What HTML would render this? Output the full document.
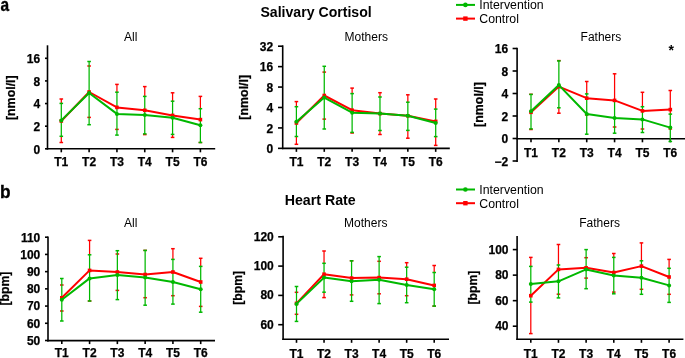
<!DOCTYPE html>
<html><head><meta charset="utf-8"><style>
html,body{margin:0;padding:0;background:#fff;overflow:hidden;}
#w{will-change:transform;width:685px;height:358px;}
svg{display:block;font-family:"Liberation Sans", sans-serif;}
</style></head><body><div id="w">
<svg width="685" height="358" viewBox="0 0 685 358">
<line x1="47.5" y1="45.3" x2="47.5" y2="149.60000000000002" stroke="#000" stroke-width="1.6"/>
<line x1="46.7" y1="148.8" x2="215.2" y2="148.8" stroke="#000" stroke-width="1.6"/>
<line x1="45.0" y1="58.3" x2="47.5" y2="58.3" stroke="#000" stroke-width="1.6"/>
<text x="40.1" y="63.099999999999994" font-size="12" font-weight="bold" text-anchor="end"  stroke="#000" stroke-width="0.25">16</text>
<line x1="45.0" y1="80.92" x2="47.5" y2="80.92" stroke="#000" stroke-width="1.6"/>
<text x="40.1" y="85.72" font-size="12" font-weight="bold" text-anchor="end"  stroke="#000" stroke-width="0.25">8</text>
<line x1="45.0" y1="103.55" x2="47.5" y2="103.55" stroke="#000" stroke-width="1.6"/>
<text x="40.1" y="108.35" font-size="12" font-weight="bold" text-anchor="end"  stroke="#000" stroke-width="0.25">4</text>
<line x1="45.0" y1="126.18" x2="47.5" y2="126.18" stroke="#000" stroke-width="1.6"/>
<text x="40.1" y="130.98000000000002" font-size="12" font-weight="bold" text-anchor="end"  stroke="#000" stroke-width="0.25">2</text>
<line x1="45.0" y1="148.8" x2="47.5" y2="148.8" stroke="#000" stroke-width="1.6"/>
<text x="40.1" y="153.60000000000002" font-size="12" font-weight="bold" text-anchor="end"  stroke="#000" stroke-width="0.25">0</text>
<line x1="61.3" y1="148.8" x2="61.3" y2="152.3" stroke="#000" stroke-width="1.6"/>
<text x="61.3" y="165.9" font-size="12" font-weight="bold" text-anchor="middle"  stroke="#000" stroke-width="0.25">T1</text>
<line x1="89.12" y1="148.8" x2="89.12" y2="152.3" stroke="#000" stroke-width="1.6"/>
<text x="89.12" y="165.9" font-size="12" font-weight="bold" text-anchor="middle"  stroke="#000" stroke-width="0.25">T2</text>
<line x1="116.94" y1="148.8" x2="116.94" y2="152.3" stroke="#000" stroke-width="1.6"/>
<text x="116.94" y="165.9" font-size="12" font-weight="bold" text-anchor="middle"  stroke="#000" stroke-width="0.25">T3</text>
<line x1="144.76" y1="148.8" x2="144.76" y2="152.3" stroke="#000" stroke-width="1.6"/>
<text x="144.76" y="165.9" font-size="12" font-weight="bold" text-anchor="middle"  stroke="#000" stroke-width="0.25">T4</text>
<line x1="172.58" y1="148.8" x2="172.58" y2="152.3" stroke="#000" stroke-width="1.6"/>
<text x="172.58" y="165.9" font-size="12" font-weight="bold" text-anchor="middle"  stroke="#000" stroke-width="0.25">T5</text>
<line x1="200.4" y1="148.8" x2="200.4" y2="152.3" stroke="#000" stroke-width="1.6"/>
<text x="200.4" y="165.9" font-size="12" font-weight="bold" text-anchor="middle"  stroke="#000" stroke-width="0.25">T6</text>
<text x="0" y="0" font-size="12.4" font-weight="bold" stroke="#000" stroke-width="0.25" text-anchor="middle" transform="translate(15.3,97.7) rotate(-90)">[nmol/l]</text>
<text x="130.7" y="40.8" font-size="12" font-weight="normal" text-anchor="middle" >All</text>
<line x1="61.3" y1="99" x2="61.3" y2="103.4" stroke="#ff0000" stroke-width="1.25"/>
<line x1="61.3" y1="136.3" x2="61.3" y2="142.5" stroke="#ff0000" stroke-width="1.25"/>
<line x1="59.5" y1="142.5" x2="63.099999999999994" y2="142.5" stroke="#ff0000" stroke-width="1.5"/>
<line x1="59.5" y1="99" x2="63.099999999999994" y2="99" stroke="#ff0000" stroke-width="1.5"/>
<line x1="87.32000000000001" y1="117.4" x2="90.92" y2="117.4" stroke="#ff0000" stroke-width="1.5"/>
<line x1="87.32000000000001" y1="66" x2="90.92" y2="66" stroke="#ff0000" stroke-width="1.5"/>
<line x1="116.94" y1="84.4" x2="116.94" y2="92.2" stroke="#ff0000" stroke-width="1.25"/>
<line x1="115.14" y1="129.4" x2="118.74" y2="129.4" stroke="#ff0000" stroke-width="1.5"/>
<line x1="115.14" y1="84.4" x2="118.74" y2="84.4" stroke="#ff0000" stroke-width="1.5"/>
<line x1="144.76" y1="86.6" x2="144.76" y2="96.4" stroke="#ff0000" stroke-width="1.25"/>
<line x1="144.76" y1="133.9" x2="144.76" y2="134.6" stroke="#ff0000" stroke-width="1.25"/>
<line x1="142.95999999999998" y1="134.6" x2="146.56" y2="134.6" stroke="#ff0000" stroke-width="1.5"/>
<line x1="142.95999999999998" y1="86.6" x2="146.56" y2="86.6" stroke="#ff0000" stroke-width="1.5"/>
<line x1="172.58" y1="92.8" x2="172.58" y2="101.2" stroke="#ff0000" stroke-width="1.25"/>
<line x1="172.58" y1="134.4" x2="172.58" y2="137.4" stroke="#ff0000" stroke-width="1.25"/>
<line x1="170.78" y1="137.4" x2="174.38000000000002" y2="137.4" stroke="#ff0000" stroke-width="1.5"/>
<line x1="170.78" y1="92.8" x2="174.38000000000002" y2="92.8" stroke="#ff0000" stroke-width="1.5"/>
<line x1="200.4" y1="96.4" x2="200.4" y2="108.7" stroke="#ff0000" stroke-width="1.25"/>
<line x1="198.6" y1="142.5" x2="202.20000000000002" y2="142.5" stroke="#ff0000" stroke-width="1.5"/>
<line x1="198.6" y1="96.4" x2="202.20000000000002" y2="96.4" stroke="#ff0000" stroke-width="1.5"/>
<line x1="61.3" y1="136.3" x2="61.3" y2="103.4" stroke="#00b800" stroke-width="1.25"/>
<line x1="59.5" y1="136.3" x2="63.099999999999994" y2="136.3" stroke="#00b800" stroke-width="1.5"/>
<line x1="59.5" y1="103.4" x2="63.099999999999994" y2="103.4" stroke="#00b800" stroke-width="1.5"/>
<line x1="89.12" y1="124.7" x2="89.12" y2="61.5" stroke="#00b800" stroke-width="1.25"/>
<line x1="87.32000000000001" y1="124.7" x2="90.92" y2="124.7" stroke="#00b800" stroke-width="1.5"/>
<line x1="87.32000000000001" y1="61.5" x2="90.92" y2="61.5" stroke="#00b800" stroke-width="1.5"/>
<line x1="116.94" y1="135.1" x2="116.94" y2="92.2" stroke="#00b800" stroke-width="1.25"/>
<line x1="115.14" y1="135.1" x2="118.74" y2="135.1" stroke="#00b800" stroke-width="1.5"/>
<line x1="115.14" y1="92.2" x2="118.74" y2="92.2" stroke="#00b800" stroke-width="1.5"/>
<line x1="144.76" y1="133.9" x2="144.76" y2="96.4" stroke="#00b800" stroke-width="1.25"/>
<line x1="142.95999999999998" y1="133.9" x2="146.56" y2="133.9" stroke="#00b800" stroke-width="1.5"/>
<line x1="142.95999999999998" y1="96.4" x2="146.56" y2="96.4" stroke="#00b800" stroke-width="1.5"/>
<line x1="172.58" y1="134.4" x2="172.58" y2="101.2" stroke="#00b800" stroke-width="1.25"/>
<line x1="170.78" y1="134.4" x2="174.38000000000002" y2="134.4" stroke="#00b800" stroke-width="1.5"/>
<line x1="170.78" y1="101.2" x2="174.38000000000002" y2="101.2" stroke="#00b800" stroke-width="1.5"/>
<line x1="200.4" y1="142.5" x2="200.4" y2="108.7" stroke="#00b800" stroke-width="1.25"/>
<line x1="198.6" y1="142.5" x2="202.20000000000002" y2="142.5" stroke="#00b800" stroke-width="1.5"/>
<line x1="198.6" y1="108.7" x2="202.20000000000002" y2="108.7" stroke="#00b800" stroke-width="1.5"/>
<polyline points="61.3,121 89.12,92 116.94,107.4 144.76,110.3 172.58,115.4 200.4,119.6" fill="none" stroke="#ff0000" stroke-width="2.0" stroke-linejoin="round"/>
<rect x="59.5" y="119.2" width="3.6" height="3.6" fill="#ff0000"/>
<rect x="87.32000000000001" y="90.2" width="3.6" height="3.6" fill="#ff0000"/>
<rect x="115.14" y="105.60000000000001" width="3.6" height="3.6" fill="#ff0000"/>
<rect x="142.95999999999998" y="108.5" width="3.6" height="3.6" fill="#ff0000"/>
<rect x="170.78" y="113.60000000000001" width="3.6" height="3.6" fill="#ff0000"/>
<rect x="198.6" y="117.8" width="3.6" height="3.6" fill="#ff0000"/>
<polyline points="61.3,120.4 89.12,93 116.94,113.9 144.76,114.9 172.58,117.7 200.4,125.2" fill="none" stroke="#00b800" stroke-width="2.0" stroke-linejoin="round"/>
<circle cx="61.3" cy="120.4" r="2.0" fill="#00b800"/>
<circle cx="89.12" cy="93" r="2.0" fill="#00b800"/>
<circle cx="116.94" cy="113.9" r="2.0" fill="#00b800"/>
<circle cx="144.76" cy="114.9" r="2.0" fill="#00b800"/>
<circle cx="172.58" cy="117.7" r="2.0" fill="#00b800"/>
<circle cx="200.4" cy="125.2" r="2.0" fill="#00b800"/>
<line x1="282.7" y1="45.3" x2="282.7" y2="149.15" stroke="#000" stroke-width="1.6"/>
<line x1="281.9" y1="148.35" x2="449.8" y2="148.35" stroke="#000" stroke-width="1.6"/>
<line x1="278.0" y1="46.2" x2="282.7" y2="46.2" stroke="#000" stroke-width="1.6"/>
<text x="273.2" y="50.85" font-size="12" font-weight="bold" text-anchor="end"  stroke="#000" stroke-width="0.25">32</text>
<line x1="278.0" y1="66.63" x2="282.7" y2="66.63" stroke="#000" stroke-width="1.6"/>
<text x="273.2" y="71.28" font-size="12" font-weight="bold" text-anchor="end"  stroke="#000" stroke-width="0.25">16</text>
<line x1="278.0" y1="87.06" x2="282.7" y2="87.06" stroke="#000" stroke-width="1.6"/>
<text x="273.2" y="91.71000000000001" font-size="12" font-weight="bold" text-anchor="end"  stroke="#000" stroke-width="0.25">8</text>
<line x1="278.0" y1="107.49" x2="282.7" y2="107.49" stroke="#000" stroke-width="1.6"/>
<text x="273.2" y="112.14" font-size="12" font-weight="bold" text-anchor="end"  stroke="#000" stroke-width="0.25">4</text>
<line x1="278.0" y1="127.92" x2="282.7" y2="127.92" stroke="#000" stroke-width="1.6"/>
<text x="273.2" y="132.57" font-size="12" font-weight="bold" text-anchor="end"  stroke="#000" stroke-width="0.25">2</text>
<line x1="278.0" y1="148.35" x2="282.7" y2="148.35" stroke="#000" stroke-width="1.6"/>
<text x="273.2" y="153.0" font-size="12" font-weight="bold" text-anchor="end"  stroke="#000" stroke-width="0.25">0</text>
<line x1="296.4" y1="148.35" x2="296.4" y2="151.85" stroke="#000" stroke-width="1.6"/>
<text x="296.4" y="165.9" font-size="12" font-weight="bold" text-anchor="middle"  stroke="#000" stroke-width="0.25">T1</text>
<line x1="324.26" y1="148.35" x2="324.26" y2="151.85" stroke="#000" stroke-width="1.6"/>
<text x="324.26" y="165.9" font-size="12" font-weight="bold" text-anchor="middle"  stroke="#000" stroke-width="0.25">T2</text>
<line x1="352.12" y1="148.35" x2="352.12" y2="151.85" stroke="#000" stroke-width="1.6"/>
<text x="352.12" y="165.9" font-size="12" font-weight="bold" text-anchor="middle"  stroke="#000" stroke-width="0.25">T3</text>
<line x1="379.98" y1="148.35" x2="379.98" y2="151.85" stroke="#000" stroke-width="1.6"/>
<text x="379.98" y="165.9" font-size="12" font-weight="bold" text-anchor="middle"  stroke="#000" stroke-width="0.25">T4</text>
<line x1="407.84" y1="148.35" x2="407.84" y2="151.85" stroke="#000" stroke-width="1.6"/>
<text x="407.84" y="165.9" font-size="12" font-weight="bold" text-anchor="middle"  stroke="#000" stroke-width="0.25">T5</text>
<line x1="435.7" y1="148.35" x2="435.7" y2="151.85" stroke="#000" stroke-width="1.6"/>
<text x="435.7" y="165.9" font-size="12" font-weight="bold" text-anchor="middle"  stroke="#000" stroke-width="0.25">T6</text>
<text x="0" y="0" font-size="12.4" font-weight="bold" stroke="#000" stroke-width="0.25" text-anchor="middle" transform="translate(248.25,97.25) rotate(-90)">[nmol/l]</text>
<text x="366.3" y="40.5" font-size="12" font-weight="normal" text-anchor="middle" >Mothers</text>
<line x1="296.4" y1="101.6" x2="296.4" y2="106.7" stroke="#ff0000" stroke-width="1.25"/>
<line x1="296.4" y1="136.5" x2="296.4" y2="144.3" stroke="#ff0000" stroke-width="1.25"/>
<line x1="294.59999999999997" y1="144.3" x2="298.2" y2="144.3" stroke="#ff0000" stroke-width="1.5"/>
<line x1="294.59999999999997" y1="101.6" x2="298.2" y2="101.6" stroke="#ff0000" stroke-width="1.5"/>
<line x1="322.46" y1="119.1" x2="326.06" y2="119.1" stroke="#ff0000" stroke-width="1.5"/>
<line x1="322.46" y1="72.1" x2="326.06" y2="72.1" stroke="#ff0000" stroke-width="1.5"/>
<line x1="352.12" y1="88.1" x2="352.12" y2="93.6" stroke="#ff0000" stroke-width="1.25"/>
<line x1="352.12" y1="132.4" x2="352.12" y2="133" stroke="#ff0000" stroke-width="1.25"/>
<line x1="350.32" y1="133" x2="353.92" y2="133" stroke="#ff0000" stroke-width="1.5"/>
<line x1="350.32" y1="88.1" x2="353.92" y2="88.1" stroke="#ff0000" stroke-width="1.5"/>
<line x1="379.98" y1="92.7" x2="379.98" y2="97" stroke="#ff0000" stroke-width="1.25"/>
<line x1="379.98" y1="130.5" x2="379.98" y2="134.5" stroke="#ff0000" stroke-width="1.25"/>
<line x1="378.18" y1="134.5" x2="381.78000000000003" y2="134.5" stroke="#ff0000" stroke-width="1.5"/>
<line x1="378.18" y1="92.7" x2="381.78000000000003" y2="92.7" stroke="#ff0000" stroke-width="1.5"/>
<line x1="407.84" y1="94.8" x2="407.84" y2="102.2" stroke="#ff0000" stroke-width="1.25"/>
<line x1="407.84" y1="130.4" x2="407.84" y2="138.2" stroke="#ff0000" stroke-width="1.25"/>
<line x1="406.03999999999996" y1="138.2" x2="409.64" y2="138.2" stroke="#ff0000" stroke-width="1.5"/>
<line x1="406.03999999999996" y1="94.8" x2="409.64" y2="94.8" stroke="#ff0000" stroke-width="1.5"/>
<line x1="435.7" y1="99" x2="435.7" y2="109.1" stroke="#ff0000" stroke-width="1.25"/>
<line x1="435.7" y1="136.6" x2="435.7" y2="145.4" stroke="#ff0000" stroke-width="1.25"/>
<line x1="433.9" y1="145.4" x2="437.5" y2="145.4" stroke="#ff0000" stroke-width="1.5"/>
<line x1="433.9" y1="99" x2="437.5" y2="99" stroke="#ff0000" stroke-width="1.5"/>
<line x1="296.4" y1="136.5" x2="296.4" y2="106.7" stroke="#00b800" stroke-width="1.25"/>
<line x1="294.59999999999997" y1="136.5" x2="298.2" y2="136.5" stroke="#00b800" stroke-width="1.5"/>
<line x1="294.59999999999997" y1="106.7" x2="298.2" y2="106.7" stroke="#00b800" stroke-width="1.5"/>
<line x1="324.26" y1="129" x2="324.26" y2="66.3" stroke="#00b800" stroke-width="1.25"/>
<line x1="322.46" y1="129" x2="326.06" y2="129" stroke="#00b800" stroke-width="1.5"/>
<line x1="322.46" y1="66.3" x2="326.06" y2="66.3" stroke="#00b800" stroke-width="1.5"/>
<line x1="352.12" y1="132.4" x2="352.12" y2="93.6" stroke="#00b800" stroke-width="1.25"/>
<line x1="350.32" y1="132.4" x2="353.92" y2="132.4" stroke="#00b800" stroke-width="1.5"/>
<line x1="350.32" y1="93.6" x2="353.92" y2="93.6" stroke="#00b800" stroke-width="1.5"/>
<line x1="379.98" y1="130.5" x2="379.98" y2="97" stroke="#00b800" stroke-width="1.25"/>
<line x1="378.18" y1="130.5" x2="381.78000000000003" y2="130.5" stroke="#00b800" stroke-width="1.5"/>
<line x1="378.18" y1="97" x2="381.78000000000003" y2="97" stroke="#00b800" stroke-width="1.5"/>
<line x1="407.84" y1="130.4" x2="407.84" y2="102.2" stroke="#00b800" stroke-width="1.25"/>
<line x1="406.03999999999996" y1="130.4" x2="409.64" y2="130.4" stroke="#00b800" stroke-width="1.5"/>
<line x1="406.03999999999996" y1="102.2" x2="409.64" y2="102.2" stroke="#00b800" stroke-width="1.5"/>
<line x1="435.7" y1="136.6" x2="435.7" y2="109.1" stroke="#00b800" stroke-width="1.25"/>
<line x1="433.9" y1="136.6" x2="437.5" y2="136.6" stroke="#00b800" stroke-width="1.5"/>
<line x1="433.9" y1="109.1" x2="437.5" y2="109.1" stroke="#00b800" stroke-width="1.5"/>
<polyline points="296.4,123 324.26,95.5 352.12,110.2 379.98,113.6 407.84,115.8 435.7,121.4" fill="none" stroke="#ff0000" stroke-width="2.0" stroke-linejoin="round"/>
<rect x="294.59999999999997" y="121.2" width="3.6" height="3.6" fill="#ff0000"/>
<rect x="322.46" y="93.7" width="3.6" height="3.6" fill="#ff0000"/>
<rect x="350.32" y="108.4" width="3.6" height="3.6" fill="#ff0000"/>
<rect x="378.18" y="111.8" width="3.6" height="3.6" fill="#ff0000"/>
<rect x="406.03999999999996" y="114.0" width="3.6" height="3.6" fill="#ff0000"/>
<rect x="433.9" y="119.60000000000001" width="3.6" height="3.6" fill="#ff0000"/>
<polyline points="296.4,121.7 324.26,97.6 352.12,112.7 379.98,113.6 407.84,115.8 435.7,123" fill="none" stroke="#00b800" stroke-width="2.0" stroke-linejoin="round"/>
<circle cx="296.4" cy="121.7" r="2.0" fill="#00b800"/>
<circle cx="324.26" cy="97.6" r="2.0" fill="#00b800"/>
<circle cx="352.12" cy="112.7" r="2.0" fill="#00b800"/>
<circle cx="379.98" cy="113.6" r="2.0" fill="#00b800"/>
<circle cx="407.84" cy="115.8" r="2.0" fill="#00b800"/>
<circle cx="435.7" cy="123" r="2.0" fill="#00b800"/>
<line x1="517.1" y1="47.8" x2="517.1" y2="161.9" stroke="#000" stroke-width="1.6"/>
<line x1="516.3000000000001" y1="138.8" x2="685" y2="138.8" stroke="#000" stroke-width="1.6"/>
<line x1="512.6" y1="48.5" x2="517.1" y2="48.5" stroke="#000" stroke-width="1.6"/>
<text x="508.1" y="53.35" font-size="12" font-weight="bold" text-anchor="end"  stroke="#000" stroke-width="0.25">16</text>
<line x1="512.6" y1="71.0" x2="517.1" y2="71.0" stroke="#000" stroke-width="1.6"/>
<text x="508.1" y="75.85" font-size="12" font-weight="bold" text-anchor="end"  stroke="#000" stroke-width="0.25">8</text>
<line x1="512.6" y1="93.5" x2="517.1" y2="93.5" stroke="#000" stroke-width="1.6"/>
<text x="508.1" y="98.35" font-size="12" font-weight="bold" text-anchor="end"  stroke="#000" stroke-width="0.25">4</text>
<line x1="512.6" y1="116.0" x2="517.1" y2="116.0" stroke="#000" stroke-width="1.6"/>
<text x="508.1" y="120.85" font-size="12" font-weight="bold" text-anchor="end"  stroke="#000" stroke-width="0.25">2</text>
<line x1="512.6" y1="138.5" x2="517.1" y2="138.5" stroke="#000" stroke-width="1.6"/>
<text x="508.1" y="143.35" font-size="12" font-weight="bold" text-anchor="end"  stroke="#000" stroke-width="0.25">0</text>
<line x1="512.6" y1="161.0" x2="517.1" y2="161.0" stroke="#000" stroke-width="1.6"/>
<text x="508.1" y="165.85" font-size="12" font-weight="bold" text-anchor="end"  stroke="#000" stroke-width="0.25">−2</text>
<line x1="531.0" y1="138.8" x2="531.0" y2="142.3" stroke="#000" stroke-width="1.6"/>
<text x="531.0" y="157.2" font-size="12" font-weight="bold" text-anchor="middle"  stroke="#000" stroke-width="0.25">T1</text>
<line x1="558.86" y1="138.8" x2="558.86" y2="142.3" stroke="#000" stroke-width="1.6"/>
<text x="558.86" y="157.2" font-size="12" font-weight="bold" text-anchor="middle"  stroke="#000" stroke-width="0.25">T2</text>
<line x1="586.72" y1="138.8" x2="586.72" y2="142.3" stroke="#000" stroke-width="1.6"/>
<text x="586.72" y="157.2" font-size="12" font-weight="bold" text-anchor="middle"  stroke="#000" stroke-width="0.25">T3</text>
<line x1="614.58" y1="138.8" x2="614.58" y2="142.3" stroke="#000" stroke-width="1.6"/>
<text x="614.58" y="157.2" font-size="12" font-weight="bold" text-anchor="middle"  stroke="#000" stroke-width="0.25">T4</text>
<line x1="642.44" y1="138.8" x2="642.44" y2="142.3" stroke="#000" stroke-width="1.6"/>
<text x="642.44" y="157.2" font-size="12" font-weight="bold" text-anchor="middle"  stroke="#000" stroke-width="0.25">T5</text>
<line x1="670.3" y1="138.8" x2="670.3" y2="142.3" stroke="#000" stroke-width="1.6"/>
<text x="670.3" y="157.2" font-size="12" font-weight="bold" text-anchor="middle"  stroke="#000" stroke-width="0.25">T6</text>
<text x="0" y="0" font-size="12.4" font-weight="bold" stroke="#000" stroke-width="0.25" text-anchor="middle" transform="translate(483.1,104.5) rotate(-90)">[nmol/l]</text>
<text x="600.9" y="40.8" font-size="12" font-weight="normal" text-anchor="middle" >Fathers</text>
<line x1="531.0" y1="94.3" x2="531.0" y2="94.4" stroke="#ff0000" stroke-width="1.25"/>
<line x1="531.0" y1="128.9" x2="531.0" y2="129.5" stroke="#ff0000" stroke-width="1.25"/>
<line x1="529.2" y1="129.5" x2="532.8" y2="129.5" stroke="#ff0000" stroke-width="1.5"/>
<line x1="529.2" y1="94.3" x2="532.8" y2="94.3" stroke="#ff0000" stroke-width="1.5"/>
<line x1="558.86" y1="60.6" x2="558.86" y2="60.9" stroke="#ff0000" stroke-width="1.25"/>
<line x1="558.86" y1="107.8" x2="558.86" y2="113.2" stroke="#ff0000" stroke-width="1.25"/>
<line x1="557.0600000000001" y1="113.2" x2="560.66" y2="113.2" stroke="#ff0000" stroke-width="1.5"/>
<line x1="557.0600000000001" y1="60.6" x2="560.66" y2="60.6" stroke="#ff0000" stroke-width="1.5"/>
<line x1="586.72" y1="81.5" x2="586.72" y2="93.9" stroke="#ff0000" stroke-width="1.25"/>
<line x1="584.9200000000001" y1="115" x2="588.52" y2="115" stroke="#ff0000" stroke-width="1.5"/>
<line x1="584.9200000000001" y1="81.5" x2="588.52" y2="81.5" stroke="#ff0000" stroke-width="1.5"/>
<line x1="614.58" y1="73.8" x2="614.58" y2="100.7" stroke="#ff0000" stroke-width="1.25"/>
<line x1="612.7800000000001" y1="127" x2="616.38" y2="127" stroke="#ff0000" stroke-width="1.5"/>
<line x1="612.7800000000001" y1="73.8" x2="616.38" y2="73.8" stroke="#ff0000" stroke-width="1.5"/>
<line x1="642.44" y1="92.3" x2="642.44" y2="106.7" stroke="#ff0000" stroke-width="1.25"/>
<line x1="640.6400000000001" y1="129" x2="644.24" y2="129" stroke="#ff0000" stroke-width="1.5"/>
<line x1="640.6400000000001" y1="92.3" x2="644.24" y2="92.3" stroke="#ff0000" stroke-width="1.5"/>
<line x1="670.3" y1="90.5" x2="670.3" y2="114.1" stroke="#ff0000" stroke-width="1.25"/>
<line x1="668.5" y1="129" x2="672.0999999999999" y2="129" stroke="#ff0000" stroke-width="1.5"/>
<line x1="668.5" y1="90.5" x2="672.0999999999999" y2="90.5" stroke="#ff0000" stroke-width="1.5"/>
<line x1="531.0" y1="128.9" x2="531.0" y2="94.4" stroke="#00b800" stroke-width="1.25"/>
<line x1="529.2" y1="128.9" x2="532.8" y2="128.9" stroke="#00b800" stroke-width="1.5"/>
<line x1="529.2" y1="94.4" x2="532.8" y2="94.4" stroke="#00b800" stroke-width="1.5"/>
<line x1="558.86" y1="107.8" x2="558.86" y2="60.9" stroke="#00b800" stroke-width="1.25"/>
<line x1="557.0600000000001" y1="107.8" x2="560.66" y2="107.8" stroke="#00b800" stroke-width="1.5"/>
<line x1="557.0600000000001" y1="60.9" x2="560.66" y2="60.9" stroke="#00b800" stroke-width="1.5"/>
<line x1="586.72" y1="134.2" x2="586.72" y2="93.9" stroke="#00b800" stroke-width="1.25"/>
<line x1="584.9200000000001" y1="134.2" x2="588.52" y2="134.2" stroke="#00b800" stroke-width="1.5"/>
<line x1="584.9200000000001" y1="93.9" x2="588.52" y2="93.9" stroke="#00b800" stroke-width="1.5"/>
<line x1="614.58" y1="133.2" x2="614.58" y2="100.7" stroke="#00b800" stroke-width="1.25"/>
<line x1="612.7800000000001" y1="133.2" x2="616.38" y2="133.2" stroke="#00b800" stroke-width="1.5"/>
<line x1="612.7800000000001" y1="100.7" x2="616.38" y2="100.7" stroke="#00b800" stroke-width="1.5"/>
<line x1="642.44" y1="132.5" x2="642.44" y2="106.7" stroke="#00b800" stroke-width="1.25"/>
<line x1="640.6400000000001" y1="132.5" x2="644.24" y2="132.5" stroke="#00b800" stroke-width="1.5"/>
<line x1="640.6400000000001" y1="106.7" x2="644.24" y2="106.7" stroke="#00b800" stroke-width="1.5"/>
<line x1="670.3" y1="141.5" x2="670.3" y2="114.1" stroke="#00b800" stroke-width="1.25"/>
<line x1="668.5" y1="141.5" x2="672.0999999999999" y2="141.5" stroke="#00b800" stroke-width="1.5"/>
<line x1="668.5" y1="114.1" x2="672.0999999999999" y2="114.1" stroke="#00b800" stroke-width="1.5"/>
<polyline points="531.0,112.3 558.86,86.6 586.72,98.2 614.58,100.4 642.44,110.9 670.3,109.6" fill="none" stroke="#ff0000" stroke-width="2.0" stroke-linejoin="round"/>
<rect x="529.2" y="110.5" width="3.6" height="3.6" fill="#ff0000"/>
<rect x="557.0600000000001" y="84.8" width="3.6" height="3.6" fill="#ff0000"/>
<rect x="584.9200000000001" y="96.4" width="3.6" height="3.6" fill="#ff0000"/>
<rect x="612.7800000000001" y="98.60000000000001" width="3.6" height="3.6" fill="#ff0000"/>
<rect x="640.6400000000001" y="109.10000000000001" width="3.6" height="3.6" fill="#ff0000"/>
<rect x="668.5" y="107.8" width="3.6" height="3.6" fill="#ff0000"/>
<polyline points="531.0,111.3 558.86,85.1 586.72,114 614.58,118.1 642.44,119.4 670.3,127.6" fill="none" stroke="#00b800" stroke-width="2.0" stroke-linejoin="round"/>
<circle cx="531.0" cy="111.3" r="2.0" fill="#00b800"/>
<circle cx="558.86" cy="85.1" r="2.0" fill="#00b800"/>
<circle cx="586.72" cy="114" r="2.0" fill="#00b800"/>
<circle cx="614.58" cy="118.1" r="2.0" fill="#00b800"/>
<circle cx="642.44" cy="119.4" r="2.0" fill="#00b800"/>
<circle cx="670.3" cy="127.6" r="2.0" fill="#00b800"/>
<line x1="48" y1="236.4" x2="48" y2="341.40000000000003" stroke="#000" stroke-width="1.6"/>
<line x1="47.2" y1="340.6" x2="215" y2="340.6" stroke="#000" stroke-width="1.6"/>
<line x1="45" y1="237.2" x2="48" y2="237.2" stroke="#000" stroke-width="1.6"/>
<text x="40.3" y="241.5" font-size="12" font-weight="bold" text-anchor="end"  stroke="#000" stroke-width="0.25">110</text>
<line x1="45" y1="254.42" x2="48" y2="254.42" stroke="#000" stroke-width="1.6"/>
<text x="40.3" y="258.71999999999997" font-size="12" font-weight="bold" text-anchor="end"  stroke="#000" stroke-width="0.25">100</text>
<line x1="45" y1="271.63" x2="48" y2="271.63" stroke="#000" stroke-width="1.6"/>
<text x="40.3" y="275.93" font-size="12" font-weight="bold" text-anchor="end"  stroke="#000" stroke-width="0.25">90</text>
<line x1="45" y1="288.85" x2="48" y2="288.85" stroke="#000" stroke-width="1.6"/>
<text x="40.3" y="293.15000000000003" font-size="12" font-weight="bold" text-anchor="end"  stroke="#000" stroke-width="0.25">80</text>
<line x1="45" y1="306.07" x2="48" y2="306.07" stroke="#000" stroke-width="1.6"/>
<text x="40.3" y="310.37" font-size="12" font-weight="bold" text-anchor="end"  stroke="#000" stroke-width="0.25">70</text>
<line x1="45" y1="323.28" x2="48" y2="323.28" stroke="#000" stroke-width="1.6"/>
<text x="40.3" y="327.58" font-size="12" font-weight="bold" text-anchor="end"  stroke="#000" stroke-width="0.25">60</text>
<line x1="45" y1="340.5" x2="48" y2="340.5" stroke="#000" stroke-width="1.6"/>
<text x="40.3" y="344.8" font-size="12" font-weight="bold" text-anchor="end"  stroke="#000" stroke-width="0.25">50</text>
<line x1="61.8" y1="340.6" x2="61.8" y2="344.1" stroke="#000" stroke-width="1.6"/>
<text x="61.8" y="357.2" font-size="12" font-weight="bold" text-anchor="middle"  stroke="#000" stroke-width="0.25">T1</text>
<line x1="89.58" y1="340.6" x2="89.58" y2="344.1" stroke="#000" stroke-width="1.6"/>
<text x="89.58" y="357.2" font-size="12" font-weight="bold" text-anchor="middle"  stroke="#000" stroke-width="0.25">T2</text>
<line x1="117.36" y1="340.6" x2="117.36" y2="344.1" stroke="#000" stroke-width="1.6"/>
<text x="117.36" y="357.2" font-size="12" font-weight="bold" text-anchor="middle"  stroke="#000" stroke-width="0.25">T3</text>
<line x1="145.14" y1="340.6" x2="145.14" y2="344.1" stroke="#000" stroke-width="1.6"/>
<text x="145.14" y="357.2" font-size="12" font-weight="bold" text-anchor="middle"  stroke="#000" stroke-width="0.25">T4</text>
<line x1="172.92" y1="340.6" x2="172.92" y2="344.1" stroke="#000" stroke-width="1.6"/>
<text x="172.92" y="357.2" font-size="12" font-weight="bold" text-anchor="middle"  stroke="#000" stroke-width="0.25">T5</text>
<line x1="200.7" y1="340.6" x2="200.7" y2="344.1" stroke="#000" stroke-width="1.6"/>
<text x="200.7" y="357.2" font-size="12" font-weight="bold" text-anchor="middle"  stroke="#000" stroke-width="0.25">T6</text>
<text x="0" y="0" font-size="12.2" font-weight="bold" stroke="#000" stroke-width="0.25" text-anchor="middle" transform="translate(9.1,288.65) rotate(-90)">[bpm]</text>
<text x="130.7" y="227" font-size="12" font-weight="normal" text-anchor="middle" >All</text>
<line x1="60.0" y1="311" x2="63.599999999999994" y2="311" stroke="#ff0000" stroke-width="1.5"/>
<line x1="60.0" y1="285" x2="63.599999999999994" y2="285" stroke="#ff0000" stroke-width="1.5"/>
<line x1="89.58" y1="240.4" x2="89.58" y2="254.8" stroke="#ff0000" stroke-width="1.25"/>
<line x1="87.78" y1="301" x2="91.38" y2="301" stroke="#ff0000" stroke-width="1.5"/>
<line x1="87.78" y1="240.4" x2="91.38" y2="240.4" stroke="#ff0000" stroke-width="1.5"/>
<line x1="115.56" y1="290.4" x2="119.16" y2="290.4" stroke="#ff0000" stroke-width="1.5"/>
<line x1="115.56" y1="254" x2="119.16" y2="254" stroke="#ff0000" stroke-width="1.5"/>
<line x1="143.33999999999997" y1="297.7" x2="146.94" y2="297.7" stroke="#ff0000" stroke-width="1.5"/>
<line x1="143.33999999999997" y1="250.4" x2="146.94" y2="250.4" stroke="#ff0000" stroke-width="1.5"/>
<line x1="172.92" y1="248.7" x2="172.92" y2="259.4" stroke="#ff0000" stroke-width="1.25"/>
<line x1="171.11999999999998" y1="295.7" x2="174.72" y2="295.7" stroke="#ff0000" stroke-width="1.5"/>
<line x1="171.11999999999998" y1="248.7" x2="174.72" y2="248.7" stroke="#ff0000" stroke-width="1.5"/>
<line x1="200.7" y1="258.3" x2="200.7" y2="266.4" stroke="#ff0000" stroke-width="1.25"/>
<line x1="198.89999999999998" y1="306.4" x2="202.5" y2="306.4" stroke="#ff0000" stroke-width="1.5"/>
<line x1="198.89999999999998" y1="258.3" x2="202.5" y2="258.3" stroke="#ff0000" stroke-width="1.5"/>
<line x1="61.8" y1="321" x2="61.8" y2="278.5" stroke="#00b800" stroke-width="1.25"/>
<line x1="60.0" y1="321" x2="63.599999999999994" y2="321" stroke="#00b800" stroke-width="1.5"/>
<line x1="60.0" y1="278.5" x2="63.599999999999994" y2="278.5" stroke="#00b800" stroke-width="1.5"/>
<line x1="89.58" y1="301" x2="89.58" y2="254.8" stroke="#00b800" stroke-width="1.25"/>
<line x1="87.78" y1="301" x2="91.38" y2="301" stroke="#00b800" stroke-width="1.5"/>
<line x1="87.78" y1="254.8" x2="91.38" y2="254.8" stroke="#00b800" stroke-width="1.5"/>
<line x1="117.36" y1="299.6" x2="117.36" y2="250.7" stroke="#00b800" stroke-width="1.25"/>
<line x1="115.56" y1="299.6" x2="119.16" y2="299.6" stroke="#00b800" stroke-width="1.5"/>
<line x1="115.56" y1="250.7" x2="119.16" y2="250.7" stroke="#00b800" stroke-width="1.5"/>
<line x1="145.14" y1="305.2" x2="145.14" y2="250.4" stroke="#00b800" stroke-width="1.25"/>
<line x1="143.33999999999997" y1="305.2" x2="146.94" y2="305.2" stroke="#00b800" stroke-width="1.5"/>
<line x1="143.33999999999997" y1="250.4" x2="146.94" y2="250.4" stroke="#00b800" stroke-width="1.5"/>
<line x1="172.92" y1="304.1" x2="172.92" y2="259.4" stroke="#00b800" stroke-width="1.25"/>
<line x1="171.11999999999998" y1="304.1" x2="174.72" y2="304.1" stroke="#00b800" stroke-width="1.5"/>
<line x1="171.11999999999998" y1="259.4" x2="174.72" y2="259.4" stroke="#00b800" stroke-width="1.5"/>
<line x1="200.7" y1="312.2" x2="200.7" y2="266.4" stroke="#00b800" stroke-width="1.25"/>
<line x1="198.89999999999998" y1="312.2" x2="202.5" y2="312.2" stroke="#00b800" stroke-width="1.5"/>
<line x1="198.89999999999998" y1="266.4" x2="202.5" y2="266.4" stroke="#00b800" stroke-width="1.5"/>
<polyline points="61.8,297.8 89.58,270.4 117.36,272 145.14,274.5 172.92,272 200.7,282" fill="none" stroke="#ff0000" stroke-width="2.0" stroke-linejoin="round"/>
<rect x="60.0" y="296.0" width="3.6" height="3.6" fill="#ff0000"/>
<rect x="87.78" y="268.59999999999997" width="3.6" height="3.6" fill="#ff0000"/>
<rect x="115.56" y="270.2" width="3.6" height="3.6" fill="#ff0000"/>
<rect x="143.33999999999997" y="272.7" width="3.6" height="3.6" fill="#ff0000"/>
<rect x="171.11999999999998" y="270.2" width="3.6" height="3.6" fill="#ff0000"/>
<rect x="198.89999999999998" y="280.2" width="3.6" height="3.6" fill="#ff0000"/>
<polyline points="61.8,299.7 89.58,278.4 117.36,275 145.14,277.6 172.92,282 200.7,289.3" fill="none" stroke="#00b800" stroke-width="2.0" stroke-linejoin="round"/>
<circle cx="61.8" cy="299.7" r="2.0" fill="#00b800"/>
<circle cx="89.58" cy="278.4" r="2.0" fill="#00b800"/>
<circle cx="117.36" cy="275" r="2.0" fill="#00b800"/>
<circle cx="145.14" cy="277.6" r="2.0" fill="#00b800"/>
<circle cx="172.92" cy="282" r="2.0" fill="#00b800"/>
<circle cx="200.7" cy="289.3" r="2.0" fill="#00b800"/>
<line x1="283.1" y1="235.8" x2="283.1" y2="340.1" stroke="#000" stroke-width="1.6"/>
<line x1="282.3" y1="339.3" x2="449" y2="339.3" stroke="#000" stroke-width="1.6"/>
<line x1="278.20000000000005" y1="236.8" x2="283.1" y2="236.8" stroke="#000" stroke-width="1.6"/>
<text x="273.8" y="240.85000000000002" font-size="12" font-weight="bold" text-anchor="end"  stroke="#000" stroke-width="0.25">120</text>
<line x1="278.20000000000005" y1="266.1" x2="283.1" y2="266.1" stroke="#000" stroke-width="1.6"/>
<text x="273.8" y="270.15000000000003" font-size="12" font-weight="bold" text-anchor="end"  stroke="#000" stroke-width="0.25">100</text>
<line x1="278.20000000000005" y1="295.4" x2="283.1" y2="295.4" stroke="#000" stroke-width="1.6"/>
<text x="273.8" y="299.45" font-size="12" font-weight="bold" text-anchor="end"  stroke="#000" stroke-width="0.25">80</text>
<line x1="278.20000000000005" y1="324.7" x2="283.1" y2="324.7" stroke="#000" stroke-width="1.6"/>
<text x="273.8" y="328.75" font-size="12" font-weight="bold" text-anchor="end"  stroke="#000" stroke-width="0.25">60</text>
<line x1="296.5" y1="339.3" x2="296.5" y2="342.8" stroke="#000" stroke-width="1.6"/>
<text x="296.5" y="357.5" font-size="12" font-weight="bold" text-anchor="middle"  stroke="#000" stroke-width="0.25">T1</text>
<line x1="324.04" y1="339.3" x2="324.04" y2="342.8" stroke="#000" stroke-width="1.6"/>
<text x="324.04" y="357.5" font-size="12" font-weight="bold" text-anchor="middle"  stroke="#000" stroke-width="0.25">T2</text>
<line x1="351.58" y1="339.3" x2="351.58" y2="342.8" stroke="#000" stroke-width="1.6"/>
<text x="351.58" y="357.5" font-size="12" font-weight="bold" text-anchor="middle"  stroke="#000" stroke-width="0.25">T3</text>
<line x1="379.12" y1="339.3" x2="379.12" y2="342.8" stroke="#000" stroke-width="1.6"/>
<text x="379.12" y="357.5" font-size="12" font-weight="bold" text-anchor="middle"  stroke="#000" stroke-width="0.25">T4</text>
<line x1="406.66" y1="339.3" x2="406.66" y2="342.8" stroke="#000" stroke-width="1.6"/>
<text x="406.66" y="357.5" font-size="12" font-weight="bold" text-anchor="middle"  stroke="#000" stroke-width="0.25">T5</text>
<line x1="434.2" y1="339.3" x2="434.2" y2="342.8" stroke="#000" stroke-width="1.6"/>
<text x="434.2" y="357.5" font-size="12" font-weight="bold" text-anchor="middle"  stroke="#000" stroke-width="0.25">T6</text>
<text x="0" y="0" font-size="12.2" font-weight="bold" stroke="#000" stroke-width="0.25" text-anchor="middle" transform="translate(242.05,287.9) rotate(-90)">[bpm]</text>
<text x="365.8" y="226.8" font-size="12" font-weight="normal" text-anchor="middle" >Mothers</text>
<line x1="294.7" y1="314.3" x2="298.3" y2="314.3" stroke="#ff0000" stroke-width="1.5"/>
<line x1="294.7" y1="292.3" x2="298.3" y2="292.3" stroke="#ff0000" stroke-width="1.5"/>
<line x1="324.04" y1="251" x2="324.04" y2="263.3" stroke="#ff0000" stroke-width="1.25"/>
<line x1="324.04" y1="292.2" x2="324.04" y2="297.6" stroke="#ff0000" stroke-width="1.25"/>
<line x1="322.24" y1="297.6" x2="325.84000000000003" y2="297.6" stroke="#ff0000" stroke-width="1.5"/>
<line x1="322.24" y1="251" x2="325.84000000000003" y2="251" stroke="#ff0000" stroke-width="1.5"/>
<line x1="349.78" y1="294.9" x2="353.38" y2="294.9" stroke="#ff0000" stroke-width="1.5"/>
<line x1="349.78" y1="260.8" x2="353.38" y2="260.8" stroke="#ff0000" stroke-width="1.5"/>
<line x1="377.32" y1="293.8" x2="380.92" y2="293.8" stroke="#ff0000" stroke-width="1.5"/>
<line x1="377.32" y1="261.3" x2="380.92" y2="261.3" stroke="#ff0000" stroke-width="1.5"/>
<line x1="406.66" y1="262.7" x2="406.66" y2="267.2" stroke="#ff0000" stroke-width="1.25"/>
<line x1="404.86" y1="295.7" x2="408.46000000000004" y2="295.7" stroke="#ff0000" stroke-width="1.5"/>
<line x1="404.86" y1="262.7" x2="408.46000000000004" y2="262.7" stroke="#ff0000" stroke-width="1.5"/>
<line x1="434.2" y1="265.5" x2="434.2" y2="272.5" stroke="#ff0000" stroke-width="1.25"/>
<line x1="432.4" y1="306.1" x2="436.0" y2="306.1" stroke="#ff0000" stroke-width="1.5"/>
<line x1="432.4" y1="265.5" x2="436.0" y2="265.5" stroke="#ff0000" stroke-width="1.5"/>
<line x1="296.5" y1="321.4" x2="296.5" y2="286.5" stroke="#00b800" stroke-width="1.25"/>
<line x1="294.7" y1="321.4" x2="298.3" y2="321.4" stroke="#00b800" stroke-width="1.5"/>
<line x1="294.7" y1="286.5" x2="298.3" y2="286.5" stroke="#00b800" stroke-width="1.5"/>
<line x1="324.04" y1="292.2" x2="324.04" y2="263.3" stroke="#00b800" stroke-width="1.25"/>
<line x1="322.24" y1="292.2" x2="325.84000000000003" y2="292.2" stroke="#00b800" stroke-width="1.5"/>
<line x1="322.24" y1="263.3" x2="325.84000000000003" y2="263.3" stroke="#00b800" stroke-width="1.5"/>
<line x1="351.58" y1="301.3" x2="351.58" y2="260.8" stroke="#00b800" stroke-width="1.25"/>
<line x1="349.78" y1="301.3" x2="353.38" y2="301.3" stroke="#00b800" stroke-width="1.5"/>
<line x1="349.78" y1="260.8" x2="353.38" y2="260.8" stroke="#00b800" stroke-width="1.5"/>
<line x1="379.12" y1="303.6" x2="379.12" y2="256.6" stroke="#00b800" stroke-width="1.25"/>
<line x1="377.32" y1="303.6" x2="380.92" y2="303.6" stroke="#00b800" stroke-width="1.5"/>
<line x1="377.32" y1="256.6" x2="380.92" y2="256.6" stroke="#00b800" stroke-width="1.5"/>
<line x1="406.66" y1="302.7" x2="406.66" y2="267.2" stroke="#00b800" stroke-width="1.25"/>
<line x1="404.86" y1="302.7" x2="408.46000000000004" y2="302.7" stroke="#00b800" stroke-width="1.5"/>
<line x1="404.86" y1="267.2" x2="408.46000000000004" y2="267.2" stroke="#00b800" stroke-width="1.5"/>
<line x1="434.2" y1="306.1" x2="434.2" y2="272.5" stroke="#00b800" stroke-width="1.25"/>
<line x1="432.4" y1="306.1" x2="436.0" y2="306.1" stroke="#00b800" stroke-width="1.5"/>
<line x1="432.4" y1="272.5" x2="436.0" y2="272.5" stroke="#00b800" stroke-width="1.5"/>
<polyline points="296.5,303.4 324.04,274.2 351.58,278.1 379.12,277.6 406.66,279.2 434.2,285.4" fill="none" stroke="#ff0000" stroke-width="2.0" stroke-linejoin="round"/>
<rect x="294.7" y="301.59999999999997" width="3.6" height="3.6" fill="#ff0000"/>
<rect x="322.24" y="272.4" width="3.6" height="3.6" fill="#ff0000"/>
<rect x="349.78" y="276.3" width="3.6" height="3.6" fill="#ff0000"/>
<rect x="377.32" y="275.8" width="3.6" height="3.6" fill="#ff0000"/>
<rect x="404.86" y="277.4" width="3.6" height="3.6" fill="#ff0000"/>
<rect x="432.4" y="283.59999999999997" width="3.6" height="3.6" fill="#ff0000"/>
<polyline points="296.5,303.9 324.04,277.6 351.58,281.2 379.12,279.8 406.66,285.1 434.2,289.3" fill="none" stroke="#00b800" stroke-width="2.0" stroke-linejoin="round"/>
<circle cx="296.5" cy="303.9" r="2.0" fill="#00b800"/>
<circle cx="324.04" cy="277.6" r="2.0" fill="#00b800"/>
<circle cx="351.58" cy="281.2" r="2.0" fill="#00b800"/>
<circle cx="379.12" cy="279.8" r="2.0" fill="#00b800"/>
<circle cx="406.66" cy="285.1" r="2.0" fill="#00b800"/>
<circle cx="434.2" cy="289.3" r="2.0" fill="#00b800"/>
<line x1="517.1" y1="236" x2="517.1" y2="340.1" stroke="#000" stroke-width="1.6"/>
<line x1="516.3000000000001" y1="339.3" x2="683.4" y2="339.3" stroke="#000" stroke-width="1.6"/>
<line x1="512.8000000000001" y1="249.6" x2="517.1" y2="249.6" stroke="#000" stroke-width="1.6"/>
<text x="508.5" y="253.65" font-size="12" font-weight="bold" text-anchor="end"  stroke="#000" stroke-width="0.25">100</text>
<line x1="512.8000000000001" y1="275.13" x2="517.1" y2="275.13" stroke="#000" stroke-width="1.6"/>
<text x="508.5" y="279.18" font-size="12" font-weight="bold" text-anchor="end"  stroke="#000" stroke-width="0.25">80</text>
<line x1="512.8000000000001" y1="300.67" x2="517.1" y2="300.67" stroke="#000" stroke-width="1.6"/>
<text x="508.5" y="304.72" font-size="12" font-weight="bold" text-anchor="end"  stroke="#000" stroke-width="0.25">60</text>
<line x1="512.8000000000001" y1="326.2" x2="517.1" y2="326.2" stroke="#000" stroke-width="1.6"/>
<text x="508.5" y="330.25" font-size="12" font-weight="bold" text-anchor="end"  stroke="#000" stroke-width="0.25">40</text>
<line x1="530.8" y1="339.3" x2="530.8" y2="342.8" stroke="#000" stroke-width="1.6"/>
<text x="530.8" y="357.5" font-size="12" font-weight="bold" text-anchor="middle"  stroke="#000" stroke-width="0.25">T1</text>
<line x1="558.46" y1="339.3" x2="558.46" y2="342.8" stroke="#000" stroke-width="1.6"/>
<text x="558.46" y="357.5" font-size="12" font-weight="bold" text-anchor="middle"  stroke="#000" stroke-width="0.25">T2</text>
<line x1="586.12" y1="339.3" x2="586.12" y2="342.8" stroke="#000" stroke-width="1.6"/>
<text x="586.12" y="357.5" font-size="12" font-weight="bold" text-anchor="middle"  stroke="#000" stroke-width="0.25">T3</text>
<line x1="613.78" y1="339.3" x2="613.78" y2="342.8" stroke="#000" stroke-width="1.6"/>
<text x="613.78" y="357.5" font-size="12" font-weight="bold" text-anchor="middle"  stroke="#000" stroke-width="0.25">T4</text>
<line x1="641.44" y1="339.3" x2="641.44" y2="342.8" stroke="#000" stroke-width="1.6"/>
<text x="641.44" y="357.5" font-size="12" font-weight="bold" text-anchor="middle"  stroke="#000" stroke-width="0.25">T5</text>
<line x1="669.1" y1="339.3" x2="669.1" y2="342.8" stroke="#000" stroke-width="1.6"/>
<text x="669.1" y="357.5" font-size="12" font-weight="bold" text-anchor="middle"  stroke="#000" stroke-width="0.25">T6</text>
<text x="0" y="0" font-size="12.2" font-weight="bold" stroke="#000" stroke-width="0.25" text-anchor="middle" transform="translate(477.05,287.65) rotate(-90)">[bpm]</text>
<text x="599.6" y="226.8" font-size="12" font-weight="normal" text-anchor="middle" >Fathers</text>
<line x1="530.8" y1="257.4" x2="530.8" y2="266.4" stroke="#ff0000" stroke-width="1.25"/>
<line x1="530.8" y1="302.1" x2="530.8" y2="333.6" stroke="#ff0000" stroke-width="1.25"/>
<line x1="529.0" y1="333.6" x2="532.5999999999999" y2="333.6" stroke="#ff0000" stroke-width="1.5"/>
<line x1="529.0" y1="257.4" x2="532.5999999999999" y2="257.4" stroke="#ff0000" stroke-width="1.5"/>
<line x1="558.46" y1="244.5" x2="558.46" y2="265" stroke="#ff0000" stroke-width="1.25"/>
<line x1="556.6600000000001" y1="294.2" x2="560.26" y2="294.2" stroke="#ff0000" stroke-width="1.5"/>
<line x1="556.6600000000001" y1="244.5" x2="560.26" y2="244.5" stroke="#ff0000" stroke-width="1.5"/>
<line x1="584.32" y1="278.1" x2="587.92" y2="278.1" stroke="#ff0000" stroke-width="1.5"/>
<line x1="584.32" y1="257.7" x2="587.92" y2="257.7" stroke="#ff0000" stroke-width="1.5"/>
<line x1="613.78" y1="253.5" x2="613.78" y2="257.4" stroke="#ff0000" stroke-width="1.25"/>
<line x1="611.98" y1="292.1" x2="615.5799999999999" y2="292.1" stroke="#ff0000" stroke-width="1.5"/>
<line x1="611.98" y1="253.5" x2="615.5799999999999" y2="253.5" stroke="#ff0000" stroke-width="1.5"/>
<line x1="641.44" y1="242.9" x2="641.44" y2="260.8" stroke="#ff0000" stroke-width="1.25"/>
<line x1="639.6400000000001" y1="289.3" x2="643.24" y2="289.3" stroke="#ff0000" stroke-width="1.5"/>
<line x1="639.6400000000001" y1="242.9" x2="643.24" y2="242.9" stroke="#ff0000" stroke-width="1.5"/>
<line x1="669.1" y1="259.4" x2="669.1" y2="268.3" stroke="#ff0000" stroke-width="1.25"/>
<line x1="667.3000000000001" y1="294.3" x2="670.9" y2="294.3" stroke="#ff0000" stroke-width="1.5"/>
<line x1="667.3000000000001" y1="259.4" x2="670.9" y2="259.4" stroke="#ff0000" stroke-width="1.5"/>
<line x1="530.8" y1="302.1" x2="530.8" y2="266.4" stroke="#00b800" stroke-width="1.25"/>
<line x1="529.0" y1="302.1" x2="532.5999999999999" y2="302.1" stroke="#00b800" stroke-width="1.5"/>
<line x1="529.0" y1="266.4" x2="532.5999999999999" y2="266.4" stroke="#00b800" stroke-width="1.5"/>
<line x1="558.46" y1="297.9" x2="558.46" y2="265" stroke="#00b800" stroke-width="1.25"/>
<line x1="556.6600000000001" y1="297.9" x2="560.26" y2="297.9" stroke="#00b800" stroke-width="1.5"/>
<line x1="556.6600000000001" y1="265" x2="560.26" y2="265" stroke="#00b800" stroke-width="1.5"/>
<line x1="586.12" y1="288.7" x2="586.12" y2="249.6" stroke="#00b800" stroke-width="1.25"/>
<line x1="584.32" y1="288.7" x2="587.92" y2="288.7" stroke="#00b800" stroke-width="1.5"/>
<line x1="584.32" y1="249.6" x2="587.92" y2="249.6" stroke="#00b800" stroke-width="1.5"/>
<line x1="613.78" y1="293.8" x2="613.78" y2="257.4" stroke="#00b800" stroke-width="1.25"/>
<line x1="611.98" y1="293.8" x2="615.5799999999999" y2="293.8" stroke="#00b800" stroke-width="1.5"/>
<line x1="611.98" y1="257.4" x2="615.5799999999999" y2="257.4" stroke="#00b800" stroke-width="1.5"/>
<line x1="641.44" y1="294.3" x2="641.44" y2="260.8" stroke="#00b800" stroke-width="1.25"/>
<line x1="639.6400000000001" y1="294.3" x2="643.24" y2="294.3" stroke="#00b800" stroke-width="1.5"/>
<line x1="639.6400000000001" y1="260.8" x2="643.24" y2="260.8" stroke="#00b800" stroke-width="1.5"/>
<line x1="669.1" y1="302.4" x2="669.1" y2="268.3" stroke="#00b800" stroke-width="1.25"/>
<line x1="667.3000000000001" y1="302.4" x2="670.9" y2="302.4" stroke="#00b800" stroke-width="1.5"/>
<line x1="667.3000000000001" y1="268.3" x2="670.9" y2="268.3" stroke="#00b800" stroke-width="1.5"/>
<polyline points="530.8,295.7 558.46,269.4 586.12,267.8 613.78,272.5 641.44,266.1 669.1,277" fill="none" stroke="#ff0000" stroke-width="2.0" stroke-linejoin="round"/>
<rect x="529.0" y="293.9" width="3.6" height="3.6" fill="#ff0000"/>
<rect x="556.6600000000001" y="267.59999999999997" width="3.6" height="3.6" fill="#ff0000"/>
<rect x="584.32" y="266.0" width="3.6" height="3.6" fill="#ff0000"/>
<rect x="611.98" y="270.7" width="3.6" height="3.6" fill="#ff0000"/>
<rect x="639.6400000000001" y="264.3" width="3.6" height="3.6" fill="#ff0000"/>
<rect x="667.3000000000001" y="275.2" width="3.6" height="3.6" fill="#ff0000"/>
<polyline points="530.8,284 558.46,281.3 586.12,269.4 613.78,275.6 641.44,277.8 669.1,285.4" fill="none" stroke="#00b800" stroke-width="2.0" stroke-linejoin="round"/>
<circle cx="530.8" cy="284" r="2.0" fill="#00b800"/>
<circle cx="558.46" cy="281.3" r="2.0" fill="#00b800"/>
<circle cx="586.12" cy="269.4" r="2.0" fill="#00b800"/>
<circle cx="613.78" cy="275.6" r="2.0" fill="#00b800"/>
<circle cx="641.44" cy="277.8" r="2.0" fill="#00b800"/>
<circle cx="669.1" cy="285.4" r="2.0" fill="#00b800"/>
<text x="0" y="0" font-size="18" font-weight="bold" stroke="#000" stroke-width="0.35" transform="translate(0.6,10.8) scale(0.86,1)">a</text>
<text x="0" y="0" font-size="18" font-weight="bold" stroke="#000" stroke-width="0.35" transform="translate(0.1,197.7) scale(0.96,1)">b</text>
<text x="260.4" y="16.8" font-size="14.12" font-weight="bold" text-anchor="start" >Salivary Cortisol</text>
<text x="284.7" y="204.7" font-size="14.2" font-weight="bold" text-anchor="start" >Heart Rate</text>
<text x="671.3" y="54.9" font-size="14" font-weight="bold" text-anchor="middle" >*</text>
<line x1="456" y1="4.9" x2="475" y2="4.9" stroke="#00b800" stroke-width="2"/>
<circle cx="465.4" cy="4.9" r="2.3" fill="#00b800"/>
<text x="479.3" y="8.9" font-size="12.3" font-weight="normal" text-anchor="start" >Intervention</text>
<line x1="456" y1="18.6" x2="475" y2="18.6" stroke="#ff0000" stroke-width="2"/>
<rect x="463.2" y="16.400000000000002" width="4.4" height="4.4" fill="#ff0000"/>
<text x="479.3" y="23.0" font-size="12.3" font-weight="normal" text-anchor="start" >Control</text>
<line x1="456" y1="189.5" x2="475" y2="189.5" stroke="#00b800" stroke-width="2"/>
<circle cx="465.4" cy="189.5" r="2.3" fill="#00b800"/>
<text x="479.3" y="193.5" font-size="12.3" font-weight="normal" text-anchor="start" >Intervention</text>
<line x1="456" y1="203.2" x2="475" y2="203.2" stroke="#ff0000" stroke-width="2"/>
<rect x="463.2" y="201.0" width="4.4" height="4.4" fill="#ff0000"/>
<text x="479.3" y="207.6" font-size="12.3" font-weight="normal" text-anchor="start" >Control</text>
</svg></div>
</body></html>
